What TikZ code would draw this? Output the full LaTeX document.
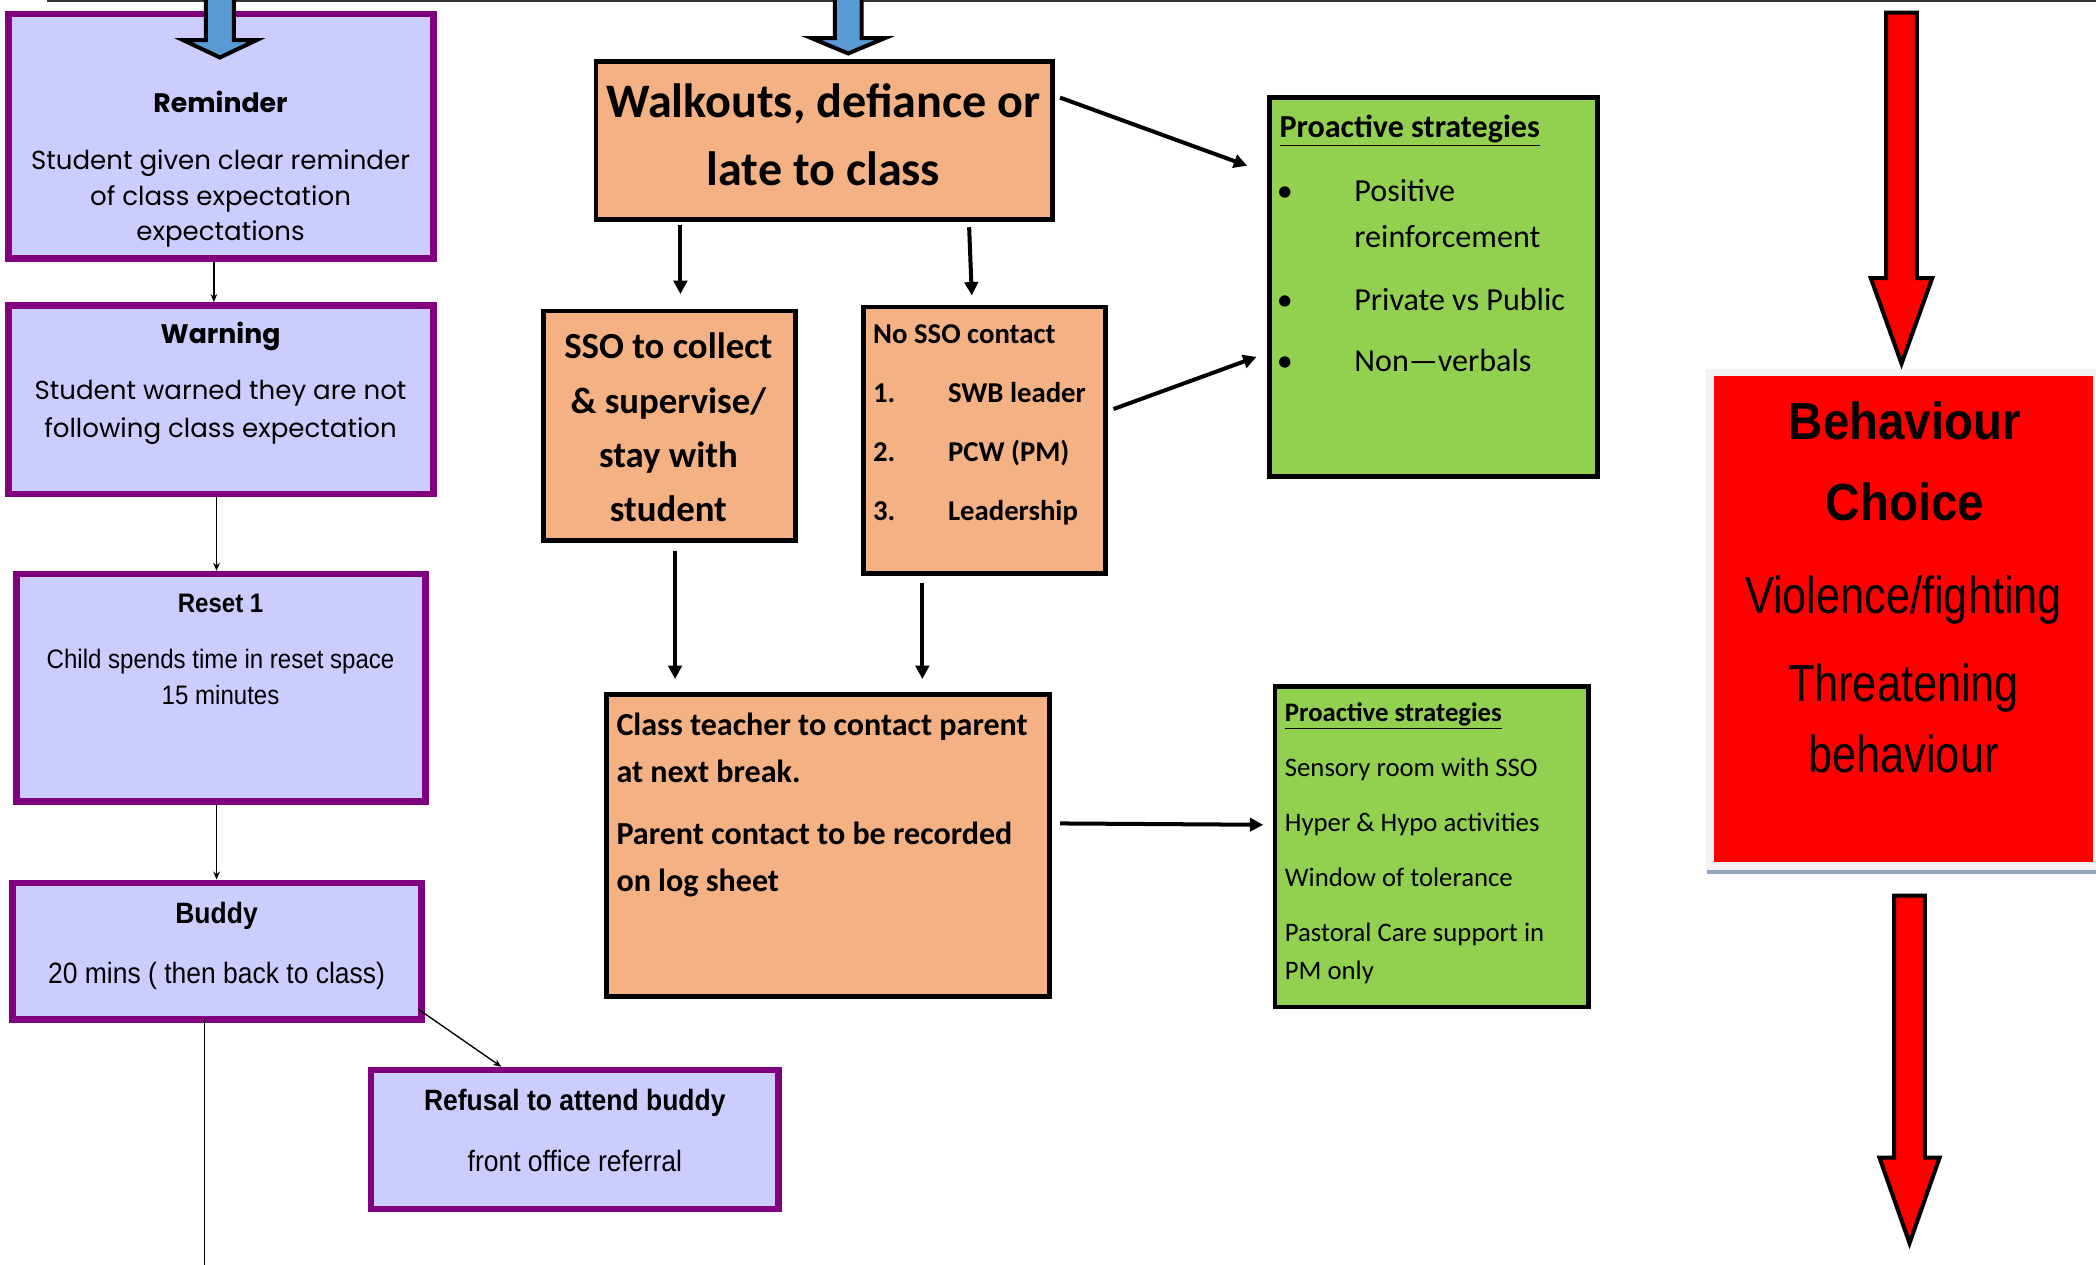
\documentclass[tikz,border=0pt]{standalone}
\usepackage{fontspec}
\usetikzlibrary{arrows.meta}
\setmainfont{Carlito}
\newfontfamily\gothic{Poppins}
\newfontfamily\narrow[FakeStretch=0.9]{Liberation Sans}
\newfontfamily\arialR[FakeStretch=0.83]{Liberation Sans}
\newfontfamily\arialB[FakeStretch=0.91]{Liberation Sans}
\definecolor{purp}{HTML}{800080}
\definecolor{lav}{HTML}{CCCCFF}
\definecolor{peach}{HTML}{F4B183}
\definecolor{lgreen}{HTML}{92D050}
\definecolor{sky}{HTML}{5B9BD5}
\definecolor{frame}{HTML}{F2F2F2}
\definecolor{steel}{HTML}{8FA8BF}
\newcommand\fs[1]{\fontsize{#1}{#1}\selectfont}
\tikzset{
  pbox/.style={draw=purp, fill=lav, line width=5pt, inner sep=0pt},
  obox/.style={draw=black, fill=peach, line width=3.5pt, inner sep=0pt},
  gbox/.style={draw=black, fill=lgreen, line width=3.5pt, inner sep=0pt},
  txt/.style={inner sep=0pt, anchor=base},
  ltxt/.style={inner sep=0pt, anchor=base west},
  thinarr/.style={line width=1pt, -{Stealth[length=6pt,width=5pt]}},
  thickarr/.style={line width=3pt, -{Triangle[length=10pt,width=10pt]}},
  fatarrow/.style={draw=black, line width=3pt, line join=miter},
}
\begin{document}
\begin{tikzpicture}[x=1pt, y=-1pt]
\useasboundingbox (0,0) rectangle (1568,946);
\fill[white] (0,0) rectangle (1568,946);
% top rule
\draw[line width=1.5pt, black!80] (35,1) -- (1568,1);

% ---------- purple column ----------
\node[pbox, minimum width=318pt, minimum height=183pt] (remind) at (165.5,102) {};
\node[pbox, minimum width=318pt, minimum height=141pt] (warn) at (165.5,299) {};
\node[pbox, minimum width=306pt, minimum height=170pt] (reset) at (165.5,514.5) {};
\node[pbox, minimum width=306pt, minimum height=102pt] (buddy) at (162.5,711.5) {};
\node[pbox, minimum width=305pt, minimum height=104pt] (refuse) at (430,852.5) {};

\node[txt, font=\gothic\bfseries\fs{20}] (remT1) at (165,84) {Reminder};
\node[txt, font=\gothic\fs{19.5}] (remT2) at (165,127) {Student given clear reminder};
\node[txt, font=\gothic\fs{19.5}] (remT3) at (165,154) {of class expectation};
\node[txt, font=\gothic\fs{19.5}] (remT4) at (165,180) {expectations};

\node[txt, font=\gothic\bfseries\fs{20}] (warT1) at (165,257) {Warning};
\node[txt, font=\gothic\fs{19.5}] (warT2) at (165,299) {Student warned they are not};
\node[txt, font=\gothic\fs{19.5}] (warT3) at (165,327) {following class expectation};

\node[txt, font=\narrow\bfseries\fs{20}] (resT1) at (165,458) {Reset 1};
\node[txt, font=\narrow\fs{20}] (resT2) at (165,500) {Child spends time in reset space};
\node[txt, font=\narrow\fs{20}] (resT3) at (165,527) {15 minutes};

\node[txt, font=\narrow\bfseries\fs{22}] (budT1) at (162,691) {Buddy};
\node[txt, font=\narrow\fs{22}] (budT2) at (162,736) {20 mins ( then back to class)};

\node[txt, font=\narrow\bfseries\fs{22}] (refT1) at (430,831) {Refusal to attend buddy};
\node[txt, font=\narrow\fs{22}] (refT2) at (430,876) {front office referral};

\coordinate (bend) at (153,946);
\draw[thinarr] ([xshift=-5.5pt]remind.south) -- ([xshift=-5.5pt]warn.north);
\draw[thinarr] ([xshift=-3.5pt]warn.south) -- ([xshift=-3.5pt]reset.north);
\draw[thinarr] ([xshift=-3.5pt]reset.south) -- ([xshift=-3.5pt]reset.south |- buddy.north);
\draw[line width=1pt] ([xshift=-9.5pt,yshift=2.5pt]buddy.south) -- (bend);
\draw[thinarr] ([xshift=-5pt,yshift=10pt]buddy.south east) -- ([xshift=-55pt]refuse.north);

% ---------- orange column ----------
\node[obox, minimum width=341.5pt, minimum height=118.5pt] (walk) at (616.5,105) {};
\node[obox, minimum width=188.5pt, minimum height=171.5pt] (sso) at (501,318.5) {};
\node[obox, minimum width=181.5pt, minimum height=199.5pt] (nosso) at (736.5,329.5) {};
\node[obox, minimum width=331.5pt, minimum height=225.5pt] (teach) at (619.5,632.5) {};

\node[txt, font=\bfseries\fs{36}] (walT1) at (616,88) {Walkouts, defiance or};
\node[txt, font=\bfseries\fs{36}] (walT2) at (616,139) {late to class};

\node[txt, font=\bfseries\fs{27.5}] (ssoT1) at (500,268) {SSO to collect};
\node[txt, font=\bfseries\fs{27.5}] (ssoT2) at (500,309) {\& supervise/};
\node[txt, font=\bfseries\fs{27.5}] (ssoT3) at (500,350) {stay with};
\node[txt, font=\bfseries\fs{27.5}] (ssoT4) at (500,390) {student};

\node[ltxt, font=\bfseries\fs{21.5}] (noT0) at (653,257) {No SSO contact};
\node[ltxt, font=\bfseries\fs{21.5}] (noN1) at (653,301) {1.};
\node[ltxt, font=\bfseries\fs{21.5}] (noN2) at (653,345) {2.};
\node[ltxt, font=\bfseries\fs{21.5}] (noN3) at (653,389) {3.};
\node[ltxt, font=\bfseries\fs{21.5}] (noT1) at (709,301) {SWB leader};
\node[ltxt, font=\bfseries\fs{21.5}] (noT2) at (709,345) {PCW (PM)};
\node[ltxt, font=\bfseries\fs{21.5}] (noT3) at (709,389) {Leadership};

\node[ltxt, font=\bfseries\fs{24}] (teaT1) at (461,550) {Class teacher to contact parent};
\node[ltxt, font=\bfseries\fs{24}] (teaT2) at (461,585) {at next break.};
\node[ltxt, font=\bfseries\fs{24}] (teaT3) at (461,632) {Parent contact to be recorded};
\node[ltxt, font=\bfseries\fs{24}] (teaT4) at (461,667) {on log sheet};

% ---------- green boxes ----------
\node[gbox, minimum width=245.5pt, minimum height=283.5pt] (g1) at (1072.5,214.5) {};
\node[gbox, minimum width=234.5pt, minimum height=239.5pt] (g2) at (1071,633.5) {};

\node[ltxt, font=\bfseries\fs{24}] (g1T0) at (957,103) {\underline{Proactive strategies}};
\node[ltxt, font=\fs{24}] (g1B1) at (955,151) {•};
\node[ltxt, font=\fs{24}] (g1B2) at (955,232) {•};
\node[ltxt, font=\fs{24}] (g1B3) at (955,278) {•};
\node[ltxt, font=\fs{24}] (g1T1) at (1013,151) {Positive};
\node[ltxt, font=\fs{24}] (g1T2) at (1013,185) {reinforcement};
\node[ltxt, font=\fs{24}] (g1T3) at (1013,232) {Private vs Public};
\node[ltxt, font=\fs{24}] (g1T4) at (1013,278) {Non—verbals};

\node[ltxt, font=\bfseries\fs{20}] (g2T0) at (961,540) {\underline{Proactive strategies}};
\node[ltxt, font=\fs{20}] (g2T1) at (961,581) {Sensory room with SSO};
\node[ltxt, font=\fs{20}] (g2T2) at (961,622) {Hyper \& Hypo activities};
\node[ltxt, font=\fs{20}] (g2T3) at (961,663) {Window of tolerance};
\node[ltxt, font=\fs{20}] (g2T4) at (961,704) {Pastoral Care support in};
\node[ltxt, font=\fs{20}] (g2T5) at (961,733) {PM only};

% orange connectors
\draw[thickarr] ([xshift=-107.5pt,yshift=-2pt]walk.south) -- ([xshift=8pt,yshift=11pt]sso.north);
\draw[thickarr] ([xshift=108.5pt,yshift=-4pt]walk.south) -- ([xshift=-9.5pt,yshift=7pt]nosso.north);
\draw[thickarr] ([xshift=4pt,yshift=32pt]walk.east) -- ([xshift=-15pt,yshift=90.5pt]g1.west);
\draw[thickarr] ([xshift=4pt,yshift=23.5pt]nosso.east) -- ([xshift=-8pt,yshift=-52.5pt]g1.west);
\draw[thickarr] ([xshift=4pt,yshift=-6pt]sso.south) -- ([xshift=-114.5pt,yshift=10pt]teach.north);
\draw[thickarr] ([xshift=-46.5pt,yshift=-5pt]nosso.south) -- ([xshift=70.5pt,yshift=10pt]teach.north);
\draw[thickarr] ([xshift=6pt,yshift=16.5pt]teach.east) -- ([xshift=-7pt,yshift=16.5pt]g2.west);

% ---------- red behaviour box ----------
\fill[frame] (1276,276) rectangle (1568,652);
\draw[steel, line width=3pt] (1277,652.5) -- (1568,652.5);
\node[fill=red, inner sep=0pt, minimum width=284pt, minimum height=364pt] (beh) at (1424,463) {};
\node[txt, font=\arialB\bfseries\fs{39}] (behT1) at (1425,329) {Behaviour};
\node[txt, font=\arialB\bfseries\fs{39}] (behT2) at (1425,389) {Choice};
\node[txt, font=\arialR\fs{39}] (behT3) at (1424,459) {Violence/fighting};
\node[txt, font=\arialR\fs{39}] (behT4) at (1424,525) {Threatening};
\node[txt, font=\arialR\fs{39}] (behT5) at (1424,578) {behaviour};

% ---------- block arrows ----------
\draw[fatarrow, fill=sky] (154,-3) -- (175,-3) -- (175,30) -- (192,30) -- (164.5,43) -- (137,30) -- (154,30) -- cycle;
\draw[fatarrow, fill=sky] (624.5,-3) -- (644.5,-3) -- (644.5,28.5) -- (662,28.5) -- (634.5,40) -- (607,28.5) -- (624.5,28.5) -- cycle;
\draw[fatarrow, fill=red] (1411,9.5) -- (1434,9.5) -- (1434,208) -- (1445.5,208) -- (1422.5,272) -- (1399.5,208) -- (1411,208) -- cycle;
\draw[fatarrow, fill=red] (1417,670) -- (1440,670) -- (1440,866) -- (1451,866) -- (1428.5,930) -- (1406,866) -- (1417,866) -- cycle;
\end{tikzpicture}
\end{document}
